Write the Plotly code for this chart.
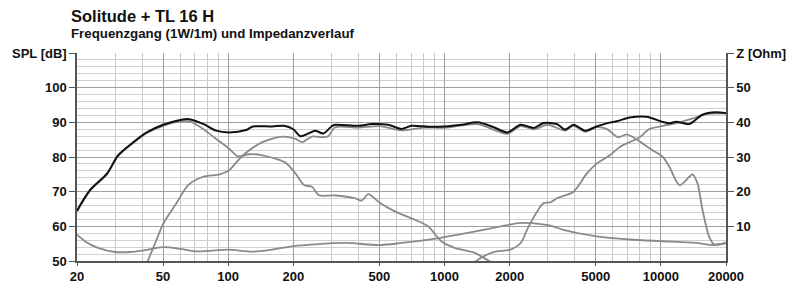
import plotly.graph_objects as go

# ---- data ----
f_total = [20, 23, 27.5, 31, 36.5, 42, 50, 60, 66, 77, 88, 101, 121, 130, 160, 181, 200, 216, 235, 252, 275, 300, 312, 400, 460, 550, 632, 703, 850, 1000, 1200, 1420, 1700, 1950, 2250, 2590, 2870, 3300, 3610, 3945, 4466, 5050, 5610, 6235, 7180, 8570, 10220, 11000, 11760, 13530, 15570, 17930, 20000]
spl_total = [64.5, 70.5, 75.2, 80.5, 84.3, 87.1, 89.3, 90.7, 90.9, 89.5, 87.6, 87.1, 87.8, 88.8, 88.8, 89.0, 88.0, 86.0, 86.8, 87.6, 86.8, 88.8, 89.3, 89.0, 89.5, 89.3, 88.1, 89.0, 88.7, 88.8, 89.3, 90.0, 88.5, 87.1, 89.3, 88.4, 89.8, 89.5, 87.9, 89.3, 87.6, 88.8, 89.7, 90.3, 91.4, 91.6, 90.1, 89.7, 90.2, 89.5, 92.2, 92.9, 92.6]

f_woofer = [20, 23, 27.5, 31, 36.5, 42, 50, 60, 66.5, 76.6, 88, 101, 111, 125, 144, 166, 185, 205, 224, 244, 262, 312, 386, 414, 444, 503, 589, 728, 838, 966, 1112, 1373, 1608, 1800]
spl_woofer = [64.3, 70.3, 75.0, 80.3, 84.1, 86.9, 89.0, 90.3, 90.3, 88.1, 85.2, 82.4, 80.2, 80.8, 80.5, 79.5, 78.3, 75.2, 71.9, 71.4, 69.0, 68.9, 68.1, 67.4, 69.3, 66.7, 64.3, 61.9, 60.0, 55.7, 53.8, 52.4, 50.0, 48.5]

f_mid = [40, 42.8, 46.7, 50.2, 57.7, 65.3, 76.6, 91.2, 101, 117, 144, 178, 205, 220, 244, 272, 290, 312, 400, 500, 632, 800, 1000, 1420, 1950, 2250, 2590, 3000, 3610, 3945, 4466, 5050, 5610, 6350, 6940, 7440, 8270, 9190, 10220, 10960, 12200, 13530, 14000, 14760, 15570, 16700, 17600, 20000]
spl_mid = [46.0, 50.5, 56.2, 60.9, 66.7, 71.9, 74.3, 75.0, 76.2, 80.5, 84.3, 85.9, 85.2, 84.3, 85.9, 85.7, 86.0, 88.6, 88.5, 88.9, 87.7, 88.5, 88.4, 89.5, 86.7, 88.9, 88.0, 89.3, 87.6, 89.0, 87.3, 88.6, 88.1, 85.7, 86.5, 85.7, 83.8, 81.9, 80.0, 77.1, 71.9, 74.3, 75.0, 72.4, 64.8, 57.1, 54.8, 55.2]

f_tweeter = [1250, 1400, 1500, 1695, 2023, 2250, 2410, 2680, 2870, 3085, 3310, 3945, 4540, 5050, 5810, 6460, 7180, 7980, 8870, 10220, 12200, 14530, 16100, 20000]
spl_tweeter = [48.5, 50.0, 51.2, 52.6, 53.3, 55.2, 59.1, 64.3, 66.7, 66.9, 68.1, 70.0, 75.2, 78.1, 80.5, 82.9, 84.3, 85.7, 88.1, 89.0, 90.0, 91.4, 92.4, 92.6]

f_imp = [20, 22, 25, 30, 35, 40, 50, 60, 70, 85, 100, 130, 160, 200, 250, 346, 500, 632, 895, 1279, 1820, 2250, 2500, 3085, 3540, 5050, 7180, 10230, 14530, 17260, 20000]
z_imp = [7.6, 5.5, 3.8, 2.6, 2.6, 3.0, 4.0, 3.5, 2.8, 3.0, 3.3, 2.7, 3.3, 4.3, 4.8, 5.2, 4.6, 5.2, 6.4, 8.1, 10.0, 11.0, 10.9, 10.2, 9.0, 7.1, 6.2, 5.7, 5.2, 4.6, 5.2]

x_ticks = [20, 50, 100, 200, 500, 1000, 2000, 5000, 10000, 20000]
x_ticklabels = ["20", "50", "100", "200", "500", "1000", "2000", "5000", "10000", "20000"]
x_minor = [30, 40, 60, 70, 80, 90, 300, 400, 600, 700, 800, 900, 3000, 4000, 6000, 7000, 8000, 9000]
y_ticks = [50, 60, 70, 80, 90, 100, 110]
y_ticklabels = ["50", "60", "70", "80", "90", "100", "SPL [dB]"]
z_ticks = [10, 20, 30, 40, 50, 60]
z_ticklabels = ["10", "20", "30", "40", "50", "Z [Ohm]"]

title = "Solitude + TL 16 H"
subtitle = "Frequenzgang (1W/1m) und Impedanzverlauf"

GRAY = "#8a8a8a"
FONT = "Liberation Sans"

fig = go.Figure()
line_kw = dict(shape="spline", smoothing=0.8)
fig.add_trace(go.Scatter(x=f_imp, y=z_imp, mode="lines", yaxis="y2",
                         line=dict(color=GRAY, width=1.8, **line_kw)))
fig.add_trace(go.Scatter(x=f_woofer, y=spl_woofer, mode="lines",
                         line=dict(color=GRAY, width=1.8, **line_kw)))
fig.add_trace(go.Scatter(x=f_mid, y=spl_mid, mode="lines",
                         line=dict(color=GRAY, width=1.8, **line_kw)))
fig.add_trace(go.Scatter(x=f_tweeter, y=spl_tweeter, mode="lines",
                         line=dict(color=GRAY, width=1.8, **line_kw)))
fig.add_trace(go.Scatter(x=f_total, y=spl_total, mode="lines",
                         line=dict(color="#111111", width=2, **line_kw)))

tickfont = dict(family=FONT, size=13, color="#111111", weight="bold")

fig.update_layout(
    width=800, height=296,
    margin=dict(l=73, r=74, t=53, b=31),
    paper_bgcolor="white", plot_bgcolor="white",
    showlegend=False,
    xaxis=dict(type="log", range=[1.30103, 4.30103],
               tickmode="array", tickvals=x_ticks, ticktext=x_ticklabels,
               tickfont=tickfont, ticks="outside", ticklen=3, tickcolor="#555",
               showgrid=True, gridcolor="#a0a0a0", gridwidth=1,
               showline=True, linecolor="#555", linewidth=1.5,
               minor=dict(tickmode="array", tickvals=x_minor, showgrid=True,
                          gridcolor="#c8c8c8", gridwidth=1),
               zeroline=False),
    yaxis=dict(range=[50, 110], tickmode="array", tickvals=y_ticks,
               ticktext=y_ticklabels, tickfont=tickfont,
               ticks="outside", ticklen=6, tickcolor="#555",
               showgrid=True, gridcolor="#a0a0a0", gridwidth=1,
               showline=True, linecolor="#555", linewidth=1.5,
               minor=dict(dtick=2, showgrid=True, gridcolor="#d0d0d0", gridwidth=1),
               zeroline=False),
    yaxis2=dict(range=[0, 60], overlaying="y", side="right",
                tickmode="array", tickvals=z_ticks, ticktext=z_ticklabels,
                tickfont=tickfont, ticks="outside", ticklen=6, tickcolor="#555",
                showgrid=False, showline=True, linecolor="#555", linewidth=1.5,
                zeroline=False),
    annotations=[
        dict(text=title, xref="paper", yref="paper", x=0, xshift=-8, y=1.179,
             xanchor="left", yanchor="middle", showarrow=False,
             font=dict(family=FONT, size=16.5, color="#111", weight="bold")),
        dict(text=subtitle, xref="paper", yref="paper", x=0, xshift=-8, y=1.094,
             xanchor="left", yanchor="middle", showarrow=False,
             font=dict(family=FONT, size=13.3, color="#111", weight="bold")),
    ],
)

fig.write_html("out.html")
